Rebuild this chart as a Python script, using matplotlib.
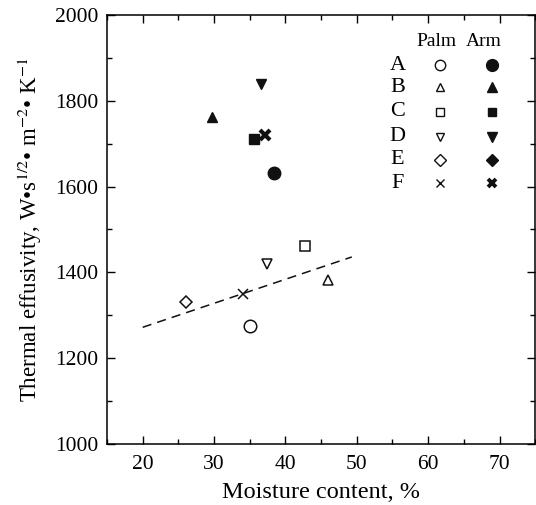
import matplotlib
matplotlib.use('Agg')
import matplotlib.pyplot as plt
from matplotlib.ticker import MultipleLocator

plt.rcParams['font.family'] = ['Liberation Serif', 'DejaVu Serif']
plt.rcParams['mathtext.fontset'] = 'stix'

# Data.
labels = ['A', 'B', 'C', 'D', 'E', 'F']
markers = ['o', '^', 's', 'v', 'D', 'x']
palm_x = [35.1, 45.9, 42.7, 37.4, 26.0, 34.0]
palm_y = [1275, 1382, 1462, 1419, 1331, 1350]
arm_x = [38.4, 29.7, 35.6, 36.6, None, 37.2]
arm_y = [1631, 1762, 1711, 1840, None, 1720]
palm_sizes = [9, 7, 6.5, 7, 6.5, 6.5]
arm_sizes = [9, 7.5, 7, 7.5, 6, 6.5]
fit_x = [20.0, 49.3]
fit_y = [1272, 1436]

fig = plt.figure(figsize=(5.36, 5.05), dpi=100)
ax = fig.add_axes([0.1996, 0.1208, 0.799, 0.8495])

for m, x, y, s in zip(markers, palm_x, palm_y, palm_sizes):
    ax.plot(x, y, m, ms=s, mfc='white', mec='#111111', mew=1.1, color='#111111')
for m, x, y, s in zip(markers, arm_x, arm_y, arm_sizes):
    if x is None:
        continue
    ax.plot(x, y, m, ms=s, mfc='#111111', mec='#111111', mew=3 if m == 'x' else 1, color='#111111')

ax.plot(fit_x, fit_y, color='#111111', ls=(0, (6, 4)), lw=1.1)

# Hand-made legend table in axes coordinates.
row_y = [0.883, 0.831, 0.774, 0.716, 0.662, 0.608]
legend_palm = [7.5, 5.5, 6, 5.5, 6, 5.5]
legend_arm = [8.5, 6.5, 6, 6.5, 6, 6]
ax.text(0.769, 0.938, 'Palm', transform=ax.transAxes, ha='center', va='center', fontsize=14)
ax.text(0.879, 0.938, 'Arm', transform=ax.transAxes, ha='center', va='center', fontsize=14)
for lab, m, ry, ps, asz in zip(labels, markers, row_y, legend_palm, legend_arm):
    ax.text(0.678, ry, lab, transform=ax.transAxes, ha='center', va='center', fontsize=16)
    ax.plot(0.7786, ry, m, transform=ax.transAxes, ms=ps, mfc='white',
            mec='#111111', mew=1.0, color='#111111', clip_on=False)
    ax.plot(0.898, ry, m, transform=ax.transAxes, ms=asz, mfc='#111111',
            mec='#111111', mew=2.8 if m == 'x' else 1, color='#111111', clip_on=False)

ax.set_xlim(15, 75)
ax.set_ylim(1000, 2000)
ax.xaxis.set_major_locator(MultipleLocator(10))
ax.xaxis.set_minor_locator(MultipleLocator(5))
ax.yaxis.set_major_locator(MultipleLocator(200))
ax.yaxis.set_minor_locator(MultipleLocator(100))
ax.set_xticks([20, 30, 40, 50, 60, 70])
ax.tick_params(which='both', direction='in', top=True, right=True, labelsize=15.5, width=1)
ax.tick_params(which='major', length=6)
ax.tick_params(which='minor', length=3.5)
ax.tick_params(axis='x', pad=8)
ax.tick_params(axis='y', pad=6)
for sp in ax.spines.values():
    sp.set_linewidth(1.1)

ax.set_xlabel('Moisture content, %', fontsize=17.5, labelpad=6)
ax.set_ylabel(r'Thermal effusivity, W•s$^{1/2}$• m$^{-2}$• K$^{-1}$', fontsize=16.5, labelpad=8)

fig.savefig('out.png', dpi=100)
